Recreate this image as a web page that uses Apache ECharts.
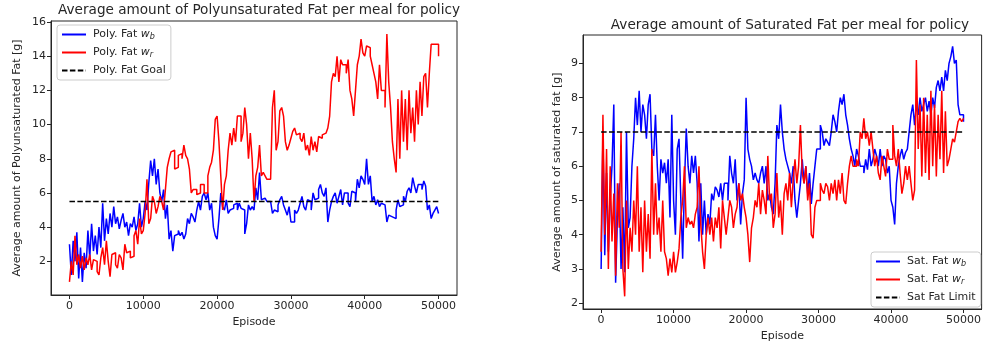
<!DOCTYPE html>
<html>
<head>
<meta charset="utf-8">
<script src="https://cdn.jsdelivr.net/npm/echarts@6/dist/echarts.min.js"></script>
<style>
  html, body { margin: 0; padding: 0; background: #fff; }
  #chart { width: 984px; height: 348px; }
</style>
</head>
<body>
<div id="chart"></div>
<script>
// one value every 250 episodes, 0 .. 50000
const STEP = 250

const polyFatWb = [
  3.0, 1.2, 3.2, 2.0, 3.7, 1.0, 2.8, 0.8, 2.5, 1.6,
  3.8, 2.2, 4.2, 2.6, 3.5, 2.4, 4.0, 2.8, 5.4, 3.2,
  4.5, 3.6, 4.8, 4.0, 5.2, 4.2, 4.6, 3.9, 4.4, 4.8,
  4.0, 4.3, 3.5, 4.2, 4.0, 4.6, 3.8, 4.2, 5.4, 4.0,
  4.5, 5.5, 5.0, 6.6, 7.9, 7.0, 8.0, 6.5, 7.4, 6.0,
  5.5, 6.2, 4.5, 5.3, 3.3, 3.8, 2.6, 3.5, 3.6, 3.8,
  3.5, 3.7, 3.3, 3.6, 4.5, 4.2, 4.8, 4.6, 4.3, 5.0,
  5.5, 5.0, 5.8, 6.0, 5.6, 6.0, 5.0, 5.4, 4.0, 3.5,
  3.3, 4.5, 6.0, 5.2, 5.0, 5.6, 4.8, 5.0, 5.1, 5.3,
  5.4, 5.0, 5.4, 5.1, 5.0, 3.6, 4.2, 5.3, 5.0, 5.2,
  5.0, 6.3, 5.6, 7.2, 5.6, 5.7, 5.6, 5.5, 5.5, 5.6,
  4.8, 5.0, 4.9, 5.3, 5.6, 5.8, 5.3, 5.0, 4.7, 5.2,
  4.3, 4.3, 5.0, 4.8, 5.0, 5.4, 5.8, 5.2, 5.0, 5.6,
  5.5, 5.0, 6.0, 5.6, 5.7, 6.2, 6.5, 6.0, 5.8, 6.3,
  4.3, 5.0, 5.5, 5.8, 6.0, 5.4, 5.8, 6.2, 5.3, 6.0,
  6.0, 5.4, 5.2, 6.1, 6.0, 5.5, 6.8, 6.3, 7.0, 6.8,
  6.5, 8.0, 6.5, 7.0, 5.5, 5.8, 5.3, 5.6, 5.2, 5.4,
  5.3, 5.2, 4.3, 4.7, 4.6, 4.6, 4.5, 5.0, 5.6, 5.2,
  5.3, 5.8, 5.5, 6.1, 6.3, 6.0, 6.9, 6.4, 6.0, 6.5,
  6.5, 6.2, 6.7, 6.4, 5.0, 5.3, 4.5, 4.8, 5.0, 5.2,
  4.8
]

const polyFatWr = [
  0.8, 2.0, 1.2, 3.5, 1.8, 2.4, 1.6, 2.3, 1.5, 2.2,
  1.8, 2.4, 1.5, 2.1, 2.0, 1.4, 1.2, 2.2, 2.8, 1.8,
  3.2, 2.0, 1.1, 2.4, 2.5, 1.8, 1.6, 2.4, 2.2, 1.5,
  3.0, 2.5, 2.6, 2.2, 2.3, 3.5, 3.8, 3.0, 4.5, 3.6,
  3.8, 4.8, 6.8, 4.2, 4.5, 5.8, 5.5, 4.8, 5.2, 5.8,
  5.5, 5.0, 6.2, 7.5, 8.0, 8.4, 8.5, 7.4, 7.5, 8.2,
  8.3, 8.0, 8.8, 8.2, 8.0, 7.4, 6.0, 6.2, 6.2, 5.9,
  6.0, 6.5, 6.5, 6.0, 6.0, 7.0, 7.5, 7.8, 8.5, 10.3,
  10.5, 9.0, 7.0, 5.0, 6.5, 7.0, 8.5, 9.5, 8.8, 9.8,
  9.0, 10.5, 10.5, 9.0, 9.5, 11.0, 10.0, 8.0, 9.5, 8.0,
  5.5, 7.0, 7.5, 8.8, 7.0, 7.2, 7.0, 6.8, 6.8, 6.8,
  11.0, 12.0, 8.5, 9.0, 10.8, 11.0, 10.5, 9.0, 8.5, 8.8,
  9.2, 9.6, 9.8, 9.4, 9.5, 9.2, 9.0, 9.5, 8.5, 8.8,
  8.2, 9.3, 8.5, 9.0, 8.4, 9.3, 9.2, 9.4, 9.5, 9.6,
  9.8, 10.5, 12.5, 13.0, 12.8, 14.0, 12.5, 13.8, 13.5, 13.5,
  13.0, 13.8, 12.0, 11.5, 10.5, 12.0, 13.5, 14.0, 15.0, 14.2,
  14.0, 14.6, 14.5, 14.0, 13.5, 13.0, 12.5, 11.5, 13.5, 12.0,
  12.0, 11.0, 15.3, 12.5, 11.0, 9.0, 8.0, 7.2, 11.5, 8.0,
  12.0, 9.0, 11.5, 8.5, 12.0, 9.5, 11.0, 9.0, 12.0, 10.0,
  12.5, 10.5, 12.8, 13.0, 11.0, 13.0, 14.7, 14.7, 14.6, 14.7,
  14.0
]

const satFatWb = [
  3.0, 6.9, 3.4, 5.8, 3.5, 5.0, 6.0, 7.8, 2.6, 4.5,
  5.5, 3.0, 4.8, 2.9, 7.0, 4.2, 4.5, 6.0, 6.8, 8.0,
  7.2, 8.2, 7.0, 7.8, 7.5, 6.8, 7.8, 8.1, 6.5, 6.3,
  7.5, 6.0, 5.0, 6.2, 5.8, 6.1, 5.5, 6.2, 4.5, 7.5,
  5.0, 4.0, 6.5, 6.8, 5.0, 3.3, 5.5, 7.1, 6.0, 5.5,
  6.3, 5.8, 6.3, 5.5, 3.8, 5.5, 4.0, 5.0, 4.0, 4.6,
  4.3, 5.2, 5.0, 5.4, 5.3, 5.1, 5.5, 5.0, 5.5, 5.5,
  5.0, 6.3, 5.8, 5.5, 6.2, 5.0, 5.5, 4.3, 5.2, 5.6,
  8.0, 6.5, 6.2, 6.0, 5.6, 5.8, 5.6, 5.5, 5.8, 6.0,
  5.5, 6.0, 5.0, 5.2, 4.8, 4.6, 5.5, 7.2, 6.8, 7.8,
  7.0, 6.5, 6.2, 6.0, 5.8, 5.5, 6.0, 5.0, 4.5, 5.0,
  5.5, 6.2, 5.5, 6.0, 5.2, 5.8, 4.9, 5.5, 6.0, 6.5,
  6.5, 7.2, 7.0, 6.6, 6.8, 6.7, 6.6, 7.0, 7.5, 7.3,
  7.0, 7.6, 8.0, 7.8, 8.1, 7.5, 7.2, 6.8, 6.5, 6.3,
  6.0, 6.5, 6.3, 6.0, 6.0, 5.8, 6.2, 5.9, 6.5, 6.0,
  6.2, 6.5, 6.3, 6.0, 6.5, 6.0, 6.3, 6.2, 5.8, 6.0,
  5.0, 4.8, 4.3, 5.5, 6.0, 6.3, 6.5, 6.2, 6.4, 6.5,
  7.0, 7.5, 7.8, 7.2, 7.8, 7.5, 8.0, 7.6, 7.8, 8.0,
  7.6, 7.9, 7.5, 8.0, 7.7, 8.3, 8.5, 8.2, 8.6, 8.2,
  8.8, 8.5, 9.0, 9.2, 9.5, 9.0, 9.1, 7.8, 7.5, 7.5,
  7.3
]

const satFatWr = [
  3.5, 7.5, 4.0, 6.5, 3.0, 6.0, 3.8, 5.2, 2.8, 5.5,
  4.2, 7.0, 3.0, 2.2, 5.0, 3.0, 4.2, 3.5, 5.0, 4.0,
  6.0, 3.5, 4.8, 2.9, 5.0, 3.5, 4.6, 3.3, 6.5, 4.0,
  5.5, 4.0, 4.5, 3.5, 5.0, 3.5, 3.3, 2.8, 3.3, 2.9,
  3.5, 2.9, 3.2, 3.6, 4.5, 5.0, 6.0, 4.2, 4.5, 4.3,
  4.4, 4.2, 4.6, 4.8, 6.0, 4.3, 3.5, 3.0, 4.0, 4.5,
  4.0, 4.5, 3.8, 4.5, 4.2, 4.8, 3.6, 5.0, 4.5, 4.0,
  4.5, 5.0, 4.8, 4.2, 4.6, 4.8, 5.5, 5.0, 5.2, 4.8,
  4.5, 4.0, 3.2, 4.2, 4.5, 5.0, 4.8, 5.5, 4.6, 5.3,
  5.0, 4.6, 6.3, 5.0, 5.2, 4.2, 4.6, 5.8, 4.5, 5.0,
  4.0, 5.2, 5.5, 5.0, 5.8, 4.8, 5.6, 6.2, 5.5, 6.0,
  7.2, 5.8, 5.5, 6.0, 5.0, 5.5, 4.0, 3.9, 4.8, 5.0,
  5.0, 5.5, 5.3, 5.2, 5.5, 5.4, 5.0, 5.5, 5.2, 5.6,
  5.0, 5.6, 5.2, 5.8, 5.0, 4.9, 5.5, 6.0, 6.3, 6.0,
  6.0, 6.2, 6.0, 7.0, 6.8, 7.4, 6.8, 7.0, 6.6, 7.0,
  6.5, 6.0, 6.3, 5.8, 5.6, 6.3, 6.0, 5.7, 6.5, 6.2,
  6.2, 7.2, 6.3, 6.0, 6.5, 5.8, 5.2, 5.5, 6.0, 5.6,
  6.0, 5.5, 5.0, 5.3, 9.1, 6.5, 7.8, 5.7, 8.0, 5.8,
  7.5, 5.6, 8.2, 6.0, 7.8, 5.7, 7.5, 6.2, 8.2, 5.8,
  7.6, 6.0, 6.2, 6.5, 6.8, 6.7, 7.0, 7.3, 7.4, 7.3,
  7.4
]

const polyFatGoal = 5.5
const satFatLimit = 7.0
const xTicks = [0, 10000, 20000, 30000, 40000, 50000]
const polyTicks = [2, 4, 6, 8, 10, 12, 14, 16]
const satTicks = [2, 3, 4, 5, 6, 7, 8, 9]

const titles = [
  'Average amount of Polyunsaturated Fat per meal for policy',
  'Average amount of Saturated Fat per meal for policy'
]

const pairs = arr => arr.map((v, i) => [i * STEP, v])
const lastEp = (polyFatWb.length - 1) * STEP

const FONT = 'DejaVu Sans'
const INK = '#262626'

function xAxis(gridIndex) {
  return {
    type: 'value', gridIndex, min: -2500, max: 52500,
    name: 'Episode', nameLocation: 'middle', nameGap: 20,
    nameTextStyle: { fontFamily: FONT, fontSize: 11, color: INK },
    axisLine: { show: true, onZero: false, lineStyle: { color: INK, width: 1 } },
    axisTick: { show: true, length: 4, customValues: xTicks, lineStyle: { color: INK } },
    axisLabel: { customValues: xTicks, formatter: v => String(v), fontFamily: FONT, fontSize: 11, color: INK, margin: 6 },
    splitLine: { show: false }
  }
}

function yAxis(gridIndex, min, max, ticks, name, gap) {
  return {
    type: 'value', gridIndex, min, max,
    name, nameLocation: 'middle', nameGap: gap,
    nameTextStyle: { fontFamily: FONT, fontSize: 11, color: INK },
    axisLine: { show: true, onZero: false, lineStyle: { color: INK, width: 1 } },
    axisTick: { show: true, length: 4, customValues: ticks, lineStyle: { color: INK } },
    axisLabel: { customValues: ticks, formatter: v => String(v), fontFamily: FONT, fontSize: 11, color: INK, margin: 5 },
    splitLine: { show: false }
  }
}

function line(name, data, color, idx, dashed) {
  return {
    name, type: 'line', data, xAxisIndex: idx, yAxisIndex: idx,
    showSymbol: false, symbol: 'none', step: dashed ? false : 'end',
    lineStyle: { color, width: 1.5, type: dashed ? [5.5, 2.4] : 'solid' },
    itemStyle: { color },
    z: dashed ? 5 : 2
  }
}

const rich = {
  i: { fontFamily: FONT, fontSize: 11, fontStyle: 'italic', color: INK },
  s: { fontFamily: FONT, fontSize: 8, fontStyle: 'italic', color: INK, padding: [5, 0, 0, 0] }
}

function legend(names, left, top) {
  return {
    orient: 'vertical', left, top,
    data: names,
    itemWidth: 24, itemHeight: 12, itemGap: 6,
    padding: [4, 5, 4, 4],
    backgroundColor: 'rgba(255,255,255,0.85)',
    borderColor: '#cccccc', borderWidth: 1, borderRadius: 3,
    itemStyle: { opacity: 0 },
    textStyle: { fontFamily: FONT, fontSize: 11, color: INK, padding: [0, 0, 0, 2], rich },
    formatter: n => n.replace(/ w_(\w)$/, ' {i|w}{s|$1}')
  }
}

const chart = echarts.init(document.getElementById('chart'))
chart.setOption({
  animation: false,
  backgroundColor: '#fff',
  title: [
    { text: titles[0], left: 254, top: -2, textAlign: 'center',
      textStyle: { fontFamily: FONT, fontSize: 13.6, fontWeight: 'normal', color: INK } },
    { text: titles[1], left: 785, top: 13, textAlign: 'center',
      textStyle: { fontFamily: FONT, fontSize: 13.6, fontWeight: 'normal', color: INK } }
  ],
  grid: [
    { left: 51, top: 21, width: 406, height: 274, show: true, borderColor: INK, borderWidth: 1, backgroundColor: 'transparent' },
    { left: 583, top: 35, width: 405, height: 274, show: true, borderColor: INK, borderWidth: 1, backgroundColor: 'transparent' }
  ],
  xAxis: [xAxis(0), xAxis(1)],
  yAxis: [
    yAxis(0, 0.03, 16.06, polyTicks, 'Average amount of Polyunsaturated Fat [g]', 28),
    yAxis(1, 1.83, 9.83, satTicks, 'Average amount of saturated fat [g]', 20)
  ],
  legend: [
    legend(['Poly. Fat w_b', 'Poly. Fat w_r', 'Poly. Fat Goal'], 57, 25),
    legend(['Sat. Fat w_b', 'Sat. Fat w_r', 'Sat Fat Limit'], 871, 252)
  ],
  series: [
    line('Poly. Fat w_b', pairs(polyFatWb), '#0000ff', 0),
    line('Poly. Fat w_r', pairs(polyFatWr), '#ff0000', 0),
    line('Poly. Fat Goal', [[0, polyFatGoal], [lastEp, polyFatGoal]], '#000000', 0, true),
    line('Sat. Fat w_b', pairs(satFatWb), '#0000ff', 1),
    line('Sat. Fat w_r', pairs(satFatWr), '#ff0000', 1),
    line('Sat Fat Limit', [[0, satFatLimit], [lastEp, satFatLimit]], '#000000', 1, true)
  ]
})
</script>
</body>
</html>
